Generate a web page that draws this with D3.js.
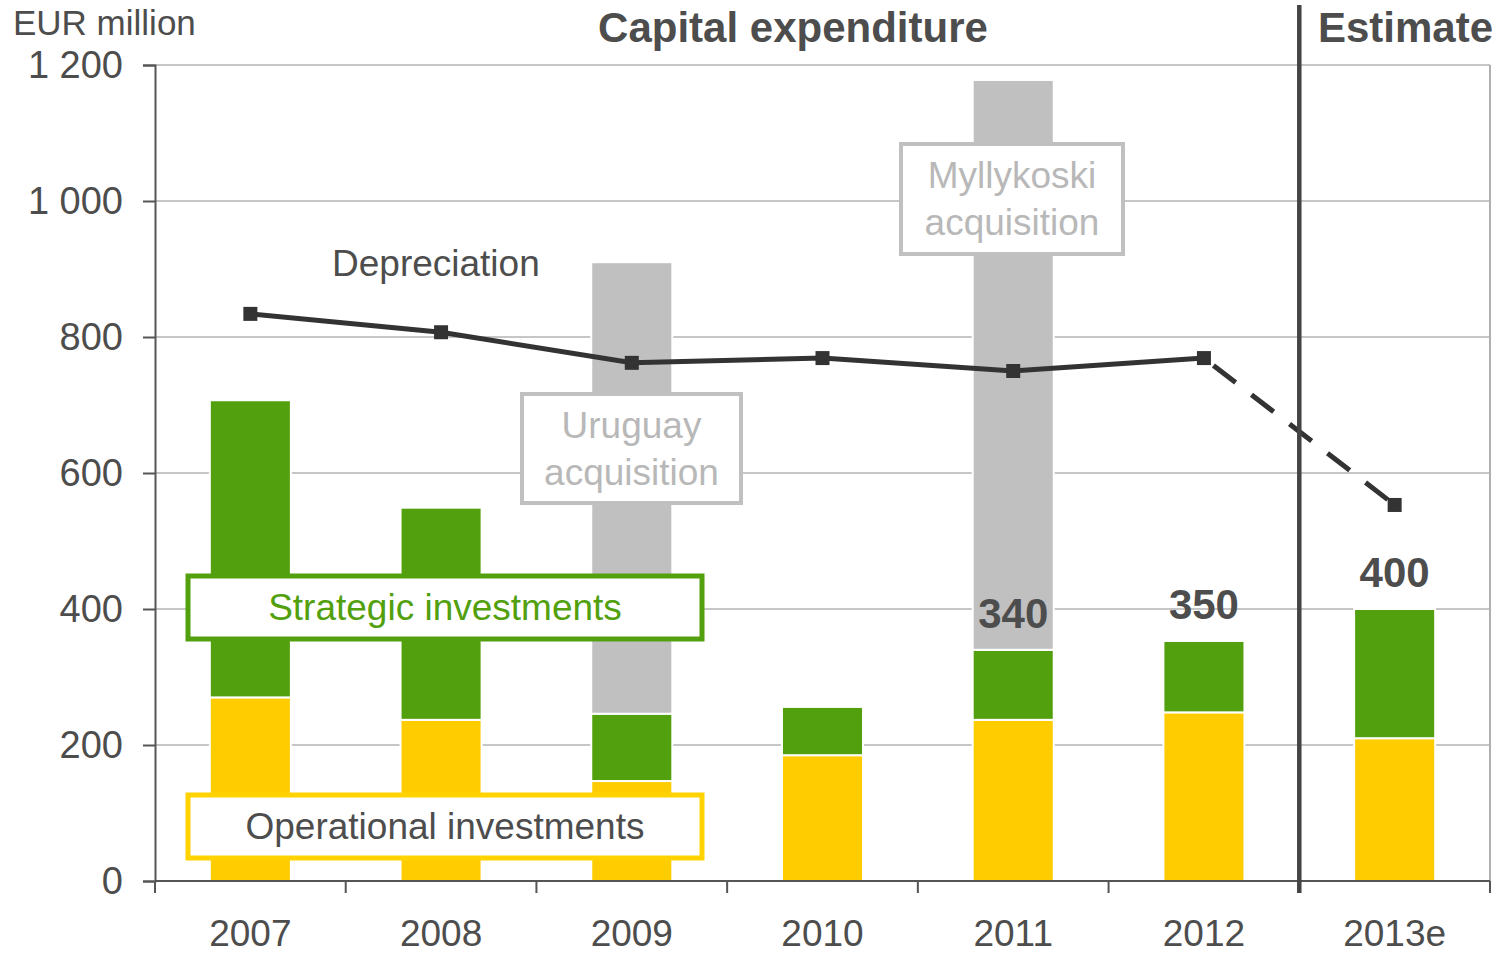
<!DOCTYPE html>
<html>
<head>
<meta charset="utf-8">
<script src="https://cdn.jsdelivr.net/npm/d3@7"></script>
<style>
  body { margin: 0; background: #fff; }
  text { font-family: "Liberation Sans", Arial, sans-serif; fill: #4d4d4d; }
</style>
</head>
<body>
<div id="chart"></div>
<script>
const years = ["2007", "2008", "2009", "2010", "2011", "2012", "2013e"];
const operational = [270, 237, 147, 185, 237, 248, 210];
const strategic = [437, 312, 99, 71, 103, 105, 190];
const acquisition = [0, 0, 664, 0, 838, 0, 0];
const depreciation = [834, 807, 762, 769, 750, 769, 553];
const totalLabels = [null, null, null, null, 340, 350, 400];
const yTicks = [0, 200, 400, 600, 800, 1000, 1200];

const W = 1502, H = 955;
const margin = { top: 65, right: 12, bottom: 74, left: 155 };
const width = W - margin.left - margin.right,
      height = H - margin.top - margin.bottom;

const svg = d3.select("#chart").append("svg")
  .attr("width", W).attr("height", H);
const g = svg.append("g").attr("transform", `translate(${margin.left},${margin.top})`);

const x = d3.scaleBand().domain(years).range([0, width])
  .paddingInner(0.575).paddingOuter(0.2875);
const y = d3.scaleLinear().domain([0, 1200]).range([height, 0]);

// grid
g.selectAll(".grid").data(yTicks.slice(1)).enter().append("line")
  .attr("x1", 0).attr("x2", width)
  .attr("y1", d => y(d)).attr("y2", d => y(d))
  .attr("stroke", "#c6c6c6").attr("stroke-width", 2);
g.append("line").attr("x1", width).attr("x2", width).attr("y1", 0).attr("y2", height)
  .attr("stroke", "#b0b0b0").attr("stroke-width", 2);

// stacked bars
const rows = years.map((yr, i) => ({ year: yr, operational: operational[i], strategic: strategic[i], acquisition: acquisition[i] }));
const stack = d3.stack().keys(["operational", "strategic", "acquisition"])(rows);
const colors = { operational: "#ffcc00", strategic: "#52a00d", acquisition: "#c0c0c0" };

stack.forEach(layer => {
  g.selectAll(".bar-" + layer.key).data(layer.filter(d => d[1] > d[0])).enter().append("rect")
    .attr("x", d => x(d.data.year))
    .attr("width", x.bandwidth())
    .attr("y", d => y(d[1]))
    .attr("height", d => y(d[0]) - y(d[1]))
    .attr("fill", colors[layer.key])
    .attr("stroke", "#fff").attr("stroke-width", 2);
});

// axes
const yAxis = g.append("g").call(d3.axisLeft(y).tickValues(yTicks)
  .tickFormat(d => d3.format(",")(d).replace(",", " ")).tickSize(12).tickPadding(20));
yAxis.select(".domain").attr("stroke", "#555").attr("stroke-width", 2);
yAxis.selectAll(".tick line").attr("stroke", "#555").attr("stroke-width", 2);
yAxis.selectAll("text").style("font-size", "38px").attr("fill", "#4d4d4d")
  .style("font-family", "Liberation Sans, Arial, sans-serif");

const bandEdges = years.map(d => x(d) - x.step() * x.paddingInner() / 2).concat([width]);
const xAxisG = g.append("g").attr("transform", `translate(0,${height})`);
xAxisG.append("line").attr("x1", 0).attr("x2", width).attr("stroke", "#555").attr("stroke-width", 2);
xAxisG.selectAll(".xt").data(bandEdges).enter().append("line")
  .attr("x1", d => d).attr("x2", d => d).attr("y1", 0).attr("y2", 12)
  .attr("stroke", "#555").attr("stroke-width", 2);
xAxisG.selectAll(".xl").data(years).enter().append("text")
  .attr("x", d => x(d) + x.bandwidth() / 2).attr("y", 65)
  .attr("text-anchor", "middle").style("font-size", "37px").text(d => d);

// depreciation line
const cx = d => x(d) + x.bandwidth() / 2;
const line = d3.line().x(d => cx(d.year)).y(d => y(d.v));
const dep = years.map((yr, i) => ({ year: yr, v: depreciation[i] }));
g.append("path").datum(dep.slice(0, 6)).attr("d", line)
  .attr("fill", "none").attr("stroke", "#333").attr("stroke-width", 5);
g.append("path").datum(dep.slice(5)).attr("d", line)
  .attr("fill", "none").attr("stroke", "#333").attr("stroke-width", 5)
  .attr("stroke-dasharray", "28 20").attr("stroke-dashoffset", -12);
g.selectAll(".mk").data(dep).enter().append("rect")
  .attr("x", d => cx(d.year) - 7).attr("y", d => y(d.v) - 7)
  .attr("width", 14).attr("height", 14).attr("fill", "#333");

// estimate divider
const estX = bandEdges[6];
g.append("line").attr("x1", estX).attr("x2", estX).attr("y1", -60).attr("y2", height + 12)
  .attr("stroke", "#444").attr("stroke-width", 4.5);

// total labels
g.selectAll(".tl").data(years.map((yr, i) => ({ year: yr, lab: totalLabels[i], tot: operational[i] + strategic[i] })).filter(d => d.lab))
  .enter().append("text")
  .attr("x", d => cx(d.year)).attr("y", d => y(d.tot) - 22)
  .attr("text-anchor", "middle")
  .style("font-family", "'Liberation Sans Narrow', 'Liberation Sans', Arial, sans-serif")
  .style("font-size", "42px").style("font-weight", "bold").text(d => d.lab);

// label boxes
function box(x0, y0, w, h, color, sw, lines, textColor, fs) {
  svg.append("rect").attr("x", x0).attr("y", y0).attr("width", w).attr("height", h)
    .attr("fill", "#fff").attr("stroke", color).attr("stroke-width", sw);
  const lh = fs * 1.27;
  const start = y0 + h / 2 - (lines.length - 1) * lh / 2 + fs * 0.35;
  lines.forEach((t, i) => svg.append("text").attr("x", x0 + w / 2).attr("y", start + i * lh)
    .attr("text-anchor", "middle").style("font-size", fs + "px").style("fill", textColor).text(t));
}
box(188, 576, 514, 63, "#52a00d", 5, ["Strategic investments"], "#52a00d", 37);
box(188, 795, 514, 63, "#ffd200", 5, ["Operational investments"], "#4d4d4d", 37);
box(522, 394, 219, 109, "#c0c0c0", 4, ["Uruguay", "acquisition"], "#b8b8b8", 37);
box(901, 144, 222, 110, "#c0c0c0", 4, ["Myllykoski", "acquisition"], "#b8b8b8", 37);

// titles
svg.append("text").attr("x", 13).attr("y", 35).style("font-size", "35px").text("EUR million");
svg.append("text").attr("x", 793).attr("y", 42).attr("text-anchor", "middle")
  .style("font-size", "42px").style("font-weight", "bold").text("Capital expenditure");
svg.append("text").attr("x", 1318).attr("y", 42)
  .style("font-size", "42px").style("font-weight", "bold").text("Estimate");
svg.append("text").attr("x", 332).attr("y", 276).style("font-size", "37px").text("Depreciation");
</script>
</body>
</html>
